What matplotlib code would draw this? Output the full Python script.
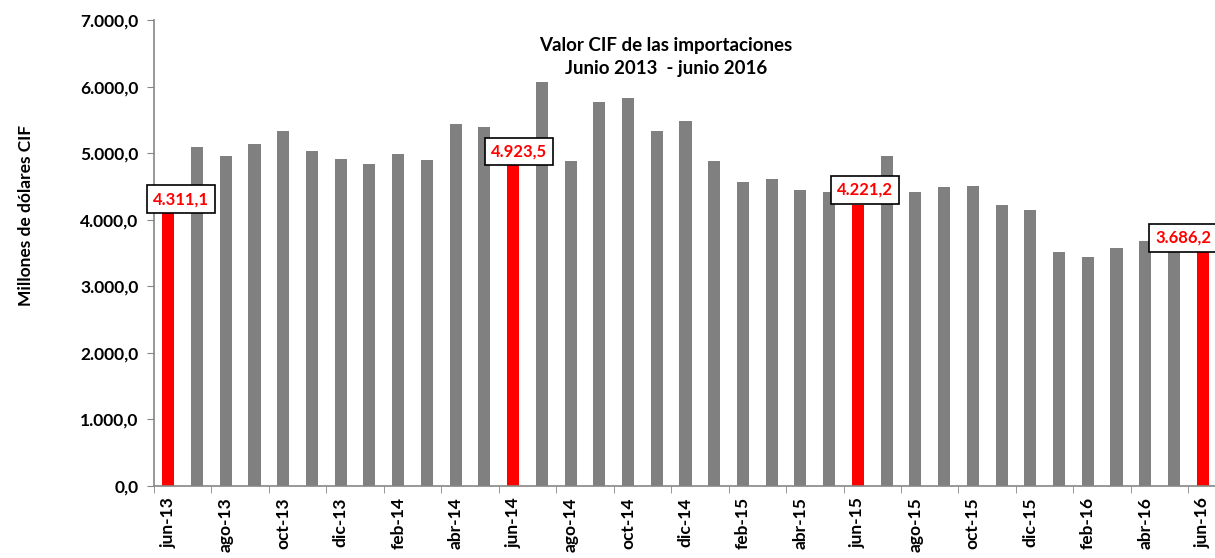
import matplotlib
matplotlib.use("Agg")
import matplotlib.pyplot as plt
import numpy as np

# Datos: valor CIF de las importaciones (millones de dólares)
meses = ["jun-13", "jul-13", "ago-13", "sep-13", "oct-13", "nov-13", "dic-13",
         "ene-14", "feb-14", "mar-14", "abr-14", "may-14", "jun-14",
         "jul-14", "ago-14", "sep-14", "oct-14", "nov-14", "dic-14",
         "ene-15", "feb-15", "mar-15", "abr-15", "may-15", "jun-15",
         "jul-15", "ago-15", "sep-15", "oct-15", "nov-15", "dic-15",
         "ene-16", "feb-16", "mar-16", "abr-16", "may-16", "jun-16"]
valores = [4311.1, 5090, 4955, 5135, 5330, 5030, 4910,
           4835, 4985, 4895, 5435, 5390, 4923.5,
           6066, 4880, 5766, 5826, 5330, 5480,
           4880, 4565, 4610, 4444, 4414, 4221.2,
           4955, 4414, 4489, 4505, 4219, 4144,
           3514, 3438, 3574, 3679, 3550, 3686.2]
destacados = ["jun-13", "jun-14", "jun-15", "jun-16"]
etiquetas_dest = ["4.311,1", "4.923,5", "4.221,2", "3.686,2"]

plt.rcParams['font.family'] = ['Lato', 'DejaVu Sans']
plt.rcParams['font.weight'] = 'bold'

fig = plt.figure(figsize=(12.15, 5.58), dpi=100)
ax = fig.add_axes([0.1267, 0.129, 0.875, 0.835])

x = np.arange(len(meses))
colores = ["#ff0000" if m in destacados else "#808080" for m in meses]
ax.bar(x, valores, width=0.42, color=colores, zorder=2)

# etiquetas de los meses de junio (desplazamiento en puntos)
desplaz = [(9, 0), (4, 5), (5, 11), (-14, 2)]
for m, txt, d in zip(destacados, etiquetas_dest, desplaz):
    i = meses.index(m)
    ax.annotate(txt, (i, valores[i]), xytext=d, textcoords="offset points",
                ha="center", va="center", color="#ff0000", fontsize=12,
                fontweight="bold", zorder=5, annotation_clip=False,
                bbox=dict(boxstyle="square,pad=0.35", fc="white", ec="black", lw=1.2))

ax.set_xlim(-0.5, len(meses) - 0.5)
ax.set_ylim(0, 7000)
yt = np.arange(0, 7001, 1000)
ax.set_yticks(yt)
ax.set_yticklabels([f"{v:,.1f}".replace(",", "X").replace(".", ",").replace("X", ".")
                    for v in yt], fontsize=12.5, fontweight="bold")

ax.set_xticks(x[::2])
ax.set_xticklabels(meses[::2], rotation=90, fontsize=12.5, fontweight="bold")
ax.set_xticks(np.arange(-0.5, len(meses), 2), minor=True)
ax.tick_params(axis="x", which="major", length=0, pad=8)
ax.tick_params(axis="x", which="minor", length=5, color="#868686", direction="out")
ax.tick_params(axis="y", length=5, color="#868686", direction="out", pad=6)

for s in ["top", "right"]:
    ax.spines[s].set_visible(False)
for s in ["left", "bottom"]:
    ax.spines[s].set_color("#868686")
    ax.spines[s].set_linewidth(1.2)

ax.set_ylabel("Millones de dólares CIF", fontsize=12.5, fontweight="bold")
ax.yaxis.set_label_coords(-0.113, 0.58)

fig.text(0.548, 0.898, "Valor CIF de las importaciones\nJunio 2013  - junio 2016",
         ha="center", va="center", fontsize=13.5, fontweight="bold", linespacing=1.45)

fig.savefig("out.png", dpi=100)
